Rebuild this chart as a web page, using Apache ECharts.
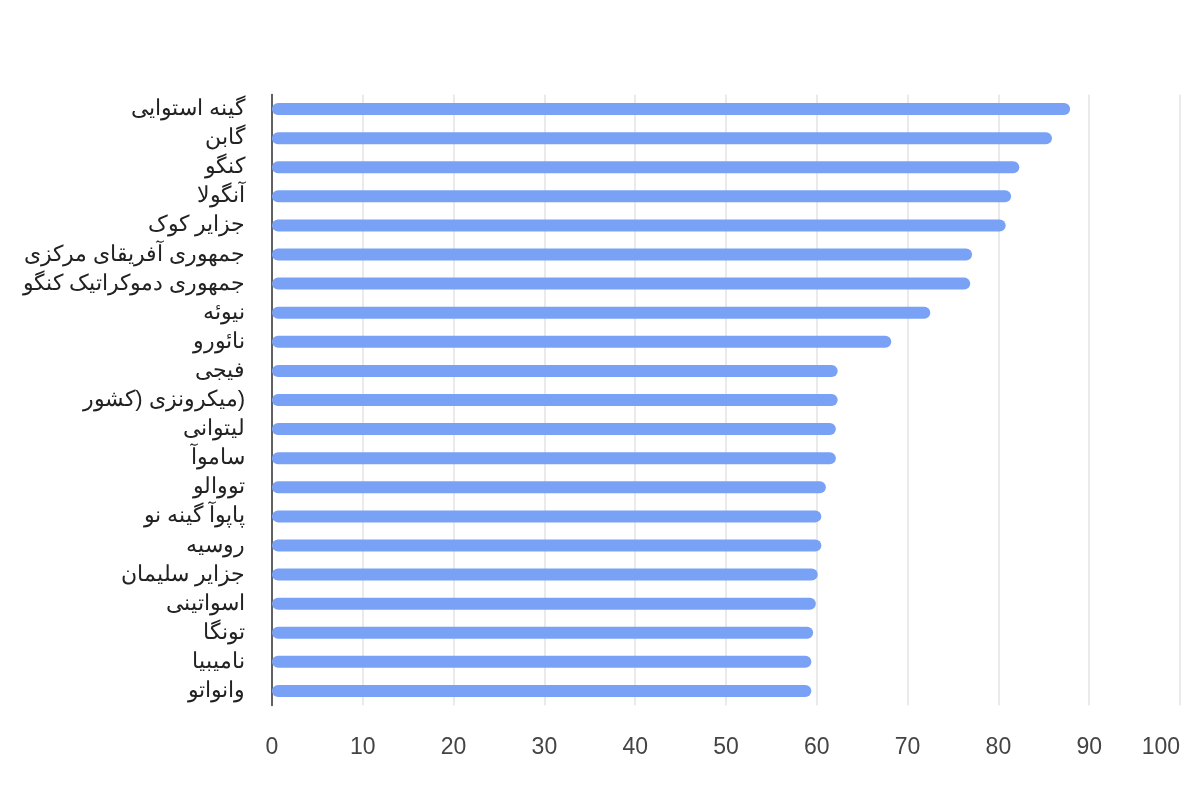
<!DOCTYPE html>
<html>
<head>
<meta charset="utf-8">
<script src="https://cdn.jsdelivr.net/npm/echarts@6/dist/echarts.min.js"></script>
<style>
html,body{margin:0;padding:0;background:#fff;}
#chart{width:1200px;height:800px;}
</style>
</head>
<body>
<div id="chart"></div>
<script>
const categories = [
  'گینه استوایی', 'گابن', 'کنگو', 'آنگولا', 'جزایر کوک',
  'جمهوری آفریقای مرکزی', 'جمهوری دموکراتیک کنگو', 'نیوئه', 'نائورو', 'فیجی',
  'میکرونزی (کشور\u2066)\u2069', 'لیتوانی', 'ساموآ', 'تووالو', 'پاپوآ گینه نو',
  'روسیه', 'جزایر سلیمان', 'اسواتینی', 'تونگا', 'نامیبیا', 'وانواتو'
];
const values = [
  87.9, 85.9, 82.3, 81.4, 80.8,
  77.1, 76.9, 72.5, 68.2, 62.3,
  62.3, 62.1, 62.1, 61.0, 60.5,
  60.5, 60.1, 59.9, 59.6, 59.4, 59.4
];
const xTicks = { min: 0, max: 100, interval: 10 };

const chart = echarts.init(document.getElementById('chart'));
chart.setOption({
  animation: false,
  backgroundColor: '#ffffff',
  grid: { left: 272, right: 20, top: 94.5, height: 611, containLabel: false },
  xAxis: {
    type: 'value',
    min: xTicks.min, max: xTicks.max, interval: xTicks.interval,
    axisLine: { show: false },
    axisTick: { show: false },
    splitLine: { show: true, lineStyle: { color: '#e3e3e3', width: 1.5 } },
    axisLabel: {
      color: '#444', fontSize: 23, margin: 31,
      fontFamily: 'Liberation Sans, Arial, sans-serif',
      alignMaxLabel: 'right'
    }
  },
  yAxis: {
    type: 'category',
    data: categories,
    inverse: true,
    axisLine: { show: true, lineStyle: { color: '#333', width: 1.5 } },
    axisTick: { show: false },
    splitLine: { show: false },
    axisLabel: {
      color: '#222', fontSize: 22, margin: 27,
      fontFamily: 'Liberation Sans, Arial, sans-serif'
    }
  },
  series: [{
    type: 'bar',
    data: values,
    barWidth: 12,
    itemStyle: { color: '#79a2f6', borderRadius: 6 }
  }]
});
</script>
</body>
</html>
